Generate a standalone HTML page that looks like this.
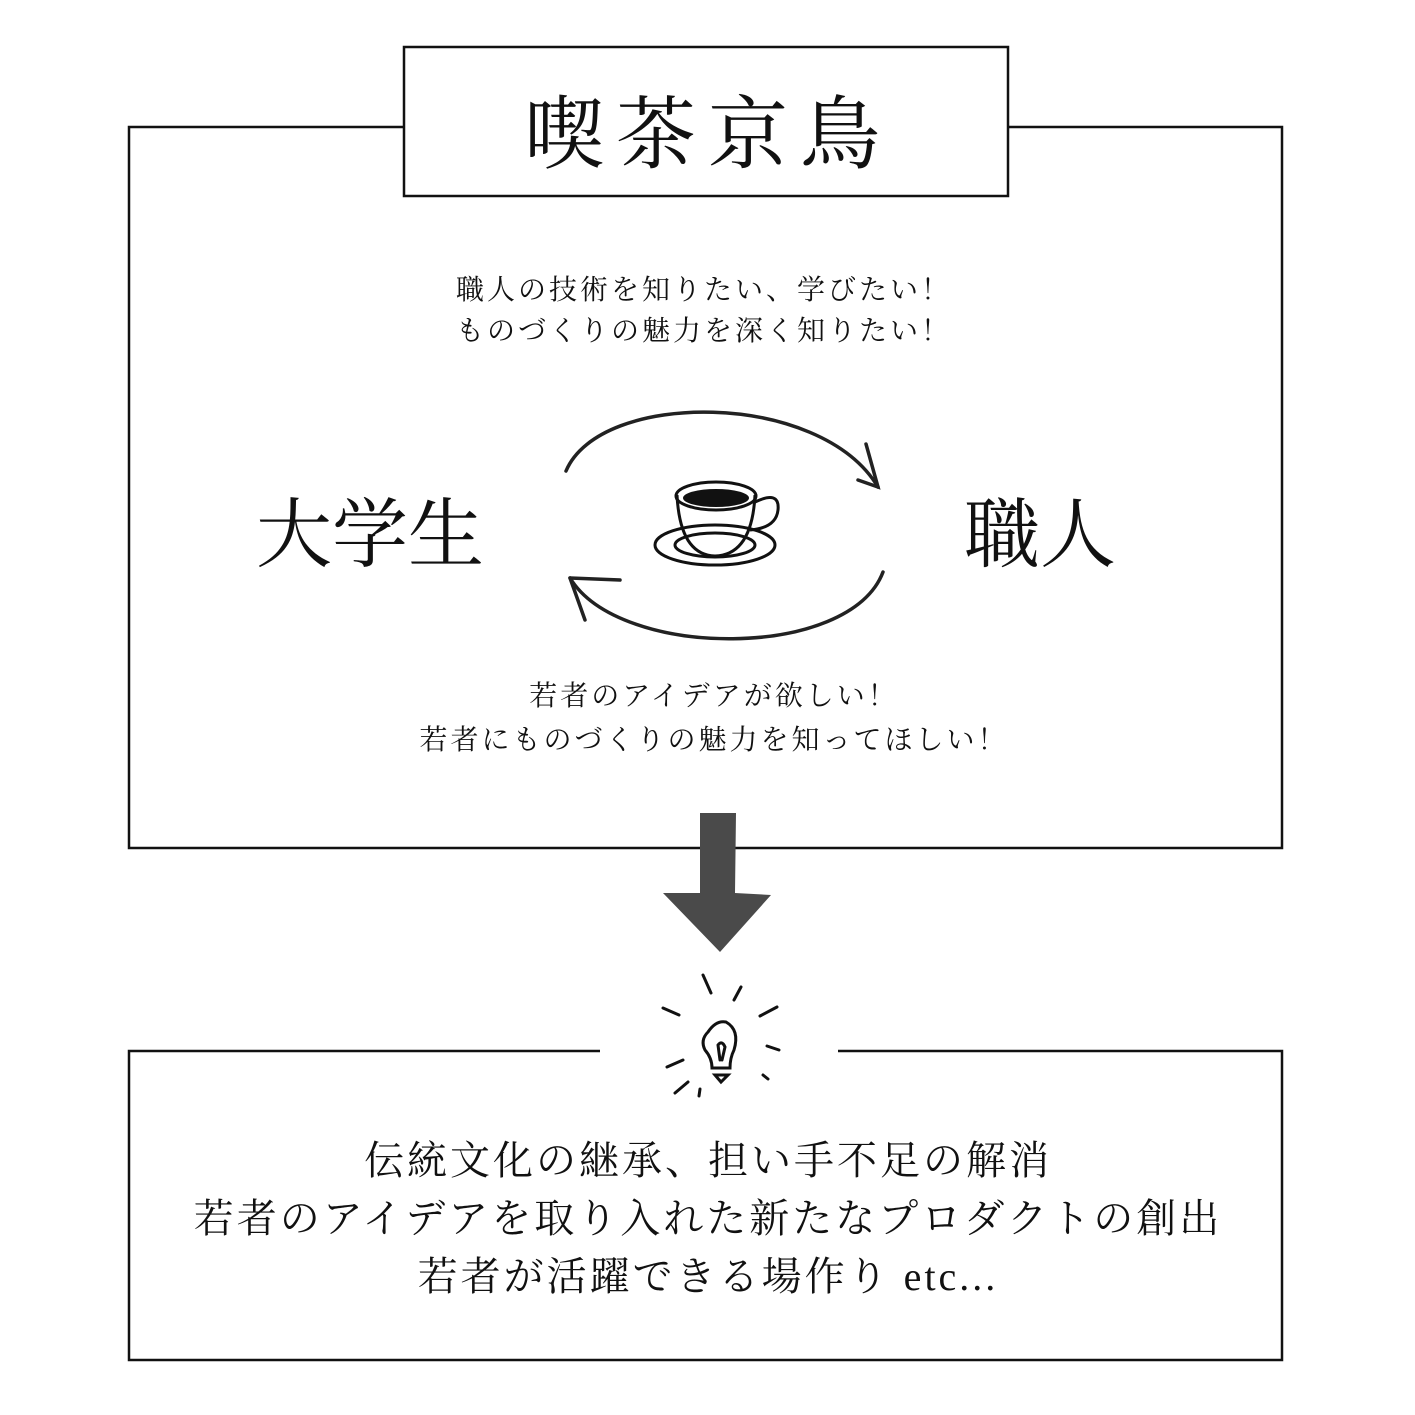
<!DOCTYPE html>
<html><head><meta charset="utf-8"><style>
body{margin:0;width:1415px;height:1415px;background:#fff;position:relative;overflow:hidden;font-family:"Liberation Serif","Noto Serif CJK SC","Noto Sans CJK JP",serif;color:#111}
.t{position:absolute;white-space:nowrap;transform:translateX(-50%)}
.c{font-family:"Noto Serif CJK SC","Noto Sans CJK JP",serif}
</style></head><body>
<svg width="1415" height="1415" style="position:absolute;left:0;top:0">
<g fill="none" stroke="#111" stroke-width="2.5">
<path d="M404,127 H129 V848 H1282 V127 H1008"/>
<rect x="404" y="47" width="604" height="149"/>
<path d="M600,1051 H129 V1360 H1282 V1051 H838"/>
</g>
<g fill="none" stroke="#222" stroke-width="3.5" stroke-linecap="round">
<path d="M566,471 C600,390 820,390 878,487"/>
<path d="M858,480 L878,487 L866,444"/>
<path d="M883,572 C850,660 620,660 570,578"/>
<path d="M570,578 L585,620 M570,578 L620,580"/>
</g>
<g stroke="#111" stroke-width="3" fill="none">
<ellipse cx="715" cy="545" rx="60" ry="20"/>
<ellipse cx="715" cy="545" rx="40" ry="12"/>
<path d="M677,495 Q680,555 715,556 Q752,555 755,495"/>
<ellipse cx="716" cy="496" rx="40" ry="14"/>
<path d="M755,502 Q780,490 778,510 Q776,528 750,530"/>
</g>
<ellipse cx="716" cy="498" rx="33" ry="9" fill="#111"/>
<path d="M700,813 L736,813 L735,893 L771,895 L720,952 L663,893 L700,893 Z" fill="#4a4a4a"/>
<g stroke="#111" stroke-width="3" fill="none" stroke-linecap="round">
<path d="M708,1032 Q716,1020 726,1022 Q740,1030 734,1050 Q730,1058 730,1068 L712,1068 Q712,1058 705,1050 Q700,1040 708,1032 Z"/>
<path d="M714,1068 L729,1068 M715,1075 L728,1075 L721,1082 Z"/>
<path d="M720,1060 L718,1045 Q722,1040 725,1047 L722,1060"/>
<path d="M703,975 L711,993 M741,987 L734,1000 M663,1008 L679,1015 M760,1016 L777,1007 M667,1067 L683,1060 M767,1046 L779,1050 M675,1093 L688,1082 M763,1075 L768,1079 M699,1096 L700,1089"/>
</g>
</svg>
<div class="t" style="left:708px;top:70px;font-size:80px;letter-spacing:12px">喫茶京鳥</div>
<div class="t c" style="left:704px;top:268px;font-size:28px;line-height:41px;text-align:center;letter-spacing:3px">職人の技術を知りたい、学びたい！<br>ものづくりの魅力を深く知りたい！</div>
<div class="t" style="left:370px;top:474px;font-size:76px">大学生</div>
<div class="t" style="left:1040px;top:474px;font-size:76px">職人</div>
<div class="t c" style="left:714px;top:672px;font-size:28px;line-height:44px;text-align:center;letter-spacing:3px">若者のアイデアが欲しい！<br>若者にものづくりの魅力を知ってほしい！</div>
<div class="t" style="left:708px;top:1132px;font-size:40px;line-height:58px;text-align:center;letter-spacing:3px">伝統文化の継承、担い手不足の解消<br>若者のアイデアを取り入れた新たなプロダクトの創出<br>若者が活躍できる場作り etc...</div>
</body></html>
